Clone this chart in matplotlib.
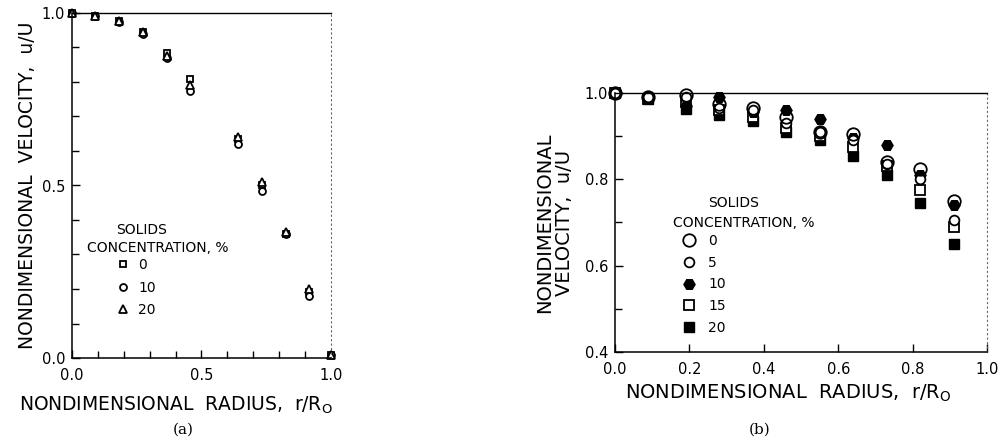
import matplotlib
matplotlib.use('Agg')
import matplotlib.pyplot as plt
from matplotlib.ticker import MultipleLocator, FixedLocator, FormatStrFormatter

# panel (a) data
r_a = [0.0, 0.09, 0.18, 0.275, 0.365, 0.455, 0.64, 0.735, 0.825, 0.915, 1.0]
ua_0 = [1.0, 0.99, 0.978, 0.945, 0.885, 0.81, 0.635, 0.50, 0.36, 0.19, 0.01]
ua_10 = [1.0, 0.99, 0.975, 0.94, 0.87, 0.775, 0.62, 0.485, 0.36, 0.18, 0.01]
ua_20 = [1.0, 0.99, 0.978, 0.945, 0.875, 0.79, 0.64, 0.51, 0.365, 0.20, 0.01]
labels_a = ['0', '10', '20']

# panel (b) data
r_b = [0.0, 0.09, 0.19, 0.28, 0.37, 0.46, 0.55, 0.64, 0.73, 0.82, 0.91]
ub_0 = [1.0, 0.99, 0.995, 0.975, 0.965, 0.945, 0.91, 0.905, 0.84, 0.825, 0.75]
ub_5 = [1.0, 0.99, 0.99, 0.965, 0.96, 0.93, 0.91, 0.89, 0.835, 0.80, 0.705]
ub_10 = [1.0, 0.985, 0.97, 0.99, 0.955, 0.96, 0.94, 0.895, 0.88, 0.81, 0.74]
ub_15 = [1.0, 0.985, 0.98, 0.96, 0.945, 0.92, 0.90, 0.875, 0.83, 0.775, 0.69]
ub_20 = [1.0, 0.985, 0.962, 0.95, 0.935, 0.91, 0.89, 0.855, 0.81, 0.745, 0.65]
labels_b = ['0', '5', '10', '15', '20']

plt.rcParams['font.family'] = ['DejaVu Sans']

fig = plt.figure(figsize=(10.08, 4.4), dpi=100)
ax1 = fig.add_axes([72/1008, 82/440, 259/1008, 345/440])
ax2 = fig.add_axes([615/1008, 88/440, 372/1008, 259/440])


def style(ax):
    ax.spines['top'].set_linewidth(1.0)
    ax.spines['right'].set_linestyle((0, (1, 3)))
    ax.spines['right'].set_linewidth(0.8)
    ax.spines['right'].set_color('0.4')
    for s in ['left', 'bottom']:
        ax.spines[s].set_linewidth(1.1)
    ax.tick_params(which='both', direction='in', top=False, right=False,
                   labelsize=10.5, width=1.0)
    ax.tick_params(axis='x', which='both', pad=7)
    ax.tick_params(axis='y', which='both', pad=5)
    ax.tick_params(which='major', length=6)
    ax.tick_params(which='minor', length=5)


# ---- (a)
kw = dict(linestyle='none', markerfacecolor='white', markeredgecolor='black',
          markeredgewidth=1.3)
h0, = ax1.plot(r_a, ua_0, marker='s', markersize=5, label=labels_a[0], **kw)
h1, = ax1.plot(r_a, ua_10, marker='o', markersize=5, label=labels_a[1], **kw)
h2, = ax1.plot(r_a, ua_20, marker='^', markersize=6, label=labels_a[2], **kw)
for h in (h0, h1, h2):
    h.set_clip_on(False)

ax1.set_xlim(0, 1.0)
ax1.set_ylim(0, 1.0)
style(ax1)
ax1.xaxis.set_major_locator(FixedLocator([0, 0.5, 1.0]))
ax1.yaxis.set_major_locator(FixedLocator([0, 0.5, 1.0]))
ax1.xaxis.set_minor_locator(MultipleLocator(0.1))
ax1.yaxis.set_minor_locator(MultipleLocator(0.1))
ax1.set_xticklabels(['0.0', '0.5', '1.0'])
ax1.set_yticklabels(['0.0', '0.5', '1.0'])
ax1.set_xlabel(r'NONDIMENSIONAL  RADIUS,  r/R$_\mathregular{O}$', fontsize=13.5)
ax1.xaxis.set_label_coords(0.40, -0.105)
ax1.set_ylabel('NONDIMENSIONAL  VELOCITY,  u/U', fontsize=13.5, labelpad=3)
ax1.text(0.27, 0.37, 'SOLIDS', transform=ax1.transAxes, ha='center',
         va='center', fontsize=10)
ax1.text(0.33, 0.32, 'CONCENTRATION, %', transform=ax1.transAxes, ha='center',
         va='center', fontsize=10)
ax1.legend(handles=[h0, h1, h2], loc='upper left', bbox_to_anchor=(0.17, 0.29),
           frameon=False, fontsize=10, handlelength=1.0, handletextpad=0.6,
           borderpad=0, borderaxespad=0, labelspacing=0.62, numpoints=1)
fig.text(183/1008, 1 - 430/440, '(a)', ha='center', va='center', fontsize=11,
         family='DejaVu Serif')

# ---- (b)
b20, = ax2.plot(r_b, ub_20, marker='s', markersize=7, linestyle='none',
                color='black', label=labels_b[4])
b15, = ax2.plot(r_b, ub_15, marker='s', markersize=7, linestyle='none',
                markerfacecolor='white', markeredgecolor='black',
                markeredgewidth=1.3, label=labels_b[3])
b10, = ax2.plot(r_b, ub_10, marker='H', markersize=8, linestyle='none',
                color='black', label=labels_b[2])
b5, = ax2.plot(r_b, ub_5, marker='o', markersize=7, linestyle='none',
               markerfacecolor='white', markeredgecolor='black',
               markeredgewidth=1.3, label=labels_b[1])
b0, = ax2.plot(r_b, ub_0, marker='o', markersize=9, linestyle='none',
               markerfacecolor='none', markeredgecolor='black',
               markeredgewidth=1.3, label=labels_b[0])
for h in (b0, b5, b10, b15, b20):
    h.set_clip_on(False)

ax2.set_xlim(0, 1.0)
ax2.set_ylim(0.4, 1.0)
style(ax2)
ax2.xaxis.set_major_locator(MultipleLocator(0.2))
ax2.yaxis.set_major_locator(MultipleLocator(0.2))
ax2.yaxis.set_minor_locator(MultipleLocator(0.1))
ax2.xaxis.set_major_formatter(FormatStrFormatter('%.1f'))
ax2.yaxis.set_major_formatter(FormatStrFormatter('%.1f'))
ax2.set_xlabel(r'NONDIMENSIONAL  RADIUS,  r/R$_\mathregular{O}$', fontsize=14)
ax2.xaxis.set_label_coords(0.465, -0.12)
ax2.set_ylabel('NONDIMENSIONAL\nVELOCITY,  u/U', fontsize=14, labelpad=8,
               linespacing=1.0)
ax2.text(0.32, 0.575, 'SOLIDS', transform=ax2.transAxes, ha='center',
         va='center', fontsize=10)
ax2.text(0.345, 0.50, 'CONCENTRATION, %', transform=ax2.transAxes, ha='center',
         va='center', fontsize=10)
ax2.legend(handles=[b0, b5, b10, b15, b20], loc='upper left',
           bbox_to_anchor=(0.18, 0.455), frameon=False, fontsize=10,
           handlelength=1.0, handletextpad=0.9, borderpad=0, borderaxespad=0,
           labelspacing=0.55, numpoints=1)
fig.text(760/1008, 1 - 430/440, '(b)', ha='center', va='center', fontsize=11,
         family='DejaVu Serif')

fig.savefig('out.png', dpi=100)
